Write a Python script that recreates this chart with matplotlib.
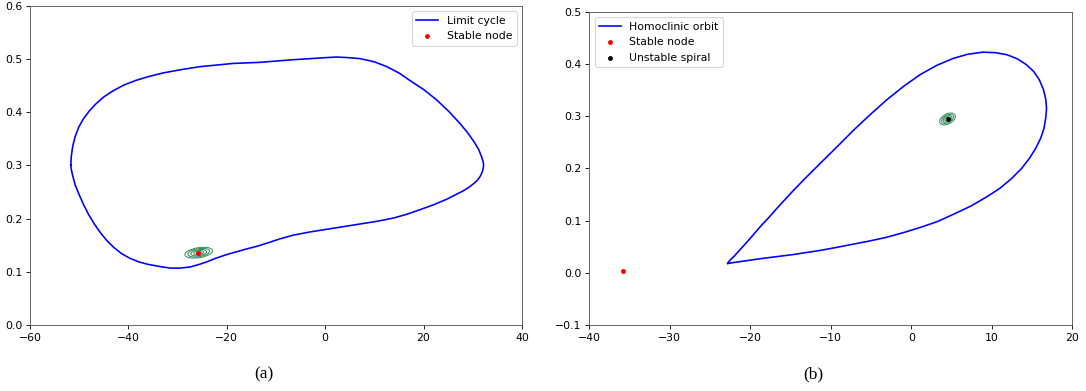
import matplotlib
matplotlib.use("Agg")
import matplotlib.pyplot as plt
from matplotlib.patches import Ellipse
from matplotlib.transforms import ScaledTranslation

# (a) limit cycle, going round the loop
cycle_x = [-51.7, -51.6, -51.3, -50.8, -50.1, -49.2, -48.0, -46.6, -45.0, -43.2,
           -41.0, -38.5, -36.0, -33.0, -29.5, -25.4, -22.0, -18.7, -13.3, -9.2,
           -6.5, -3.0, 0.3, 2.3, 4.5, 7.1, 10.0, 12.5, 15.0, 17.2,
           20.0, 22.7, 25.2, 27.4, 29.0, 30.3, 31.2, 31.8, 32.1, 32.2,
           32.0, 31.6, 31.0, 30.2, 29.2, 28.0, 26.5, 24.8, 22.0, 19.3,
           16.5, 13.8, 10.5, 7.1, 3.7, 0.3, -3.1, -6.5, -9.2, -11.5,
           -13.5, -16.0, -18.7, -20.5, -22.1, -24.0, -25.6, -27.5, -29.5, -31.5,
           -33.6, -36.0, -38.0, -39.8, -41.5, -43.1, -44.5, -45.8, -47.0, -48.1,
           -49.1, -50.0, -50.8, -51.3, -51.6, -51.7]
cycle_y = [0.301, 0.318, 0.337, 0.355, 0.372, 0.387, 0.402, 0.416, 0.429, 0.440,
           0.451, 0.460, 0.467, 0.474, 0.480, 0.486, 0.489, 0.492, 0.494, 0.497,
           0.499, 0.501, 0.503, 0.504, 0.503, 0.501, 0.495, 0.486, 0.474, 0.460,
           0.443, 0.423, 0.401, 0.379, 0.361, 0.344, 0.330, 0.316, 0.307, 0.300,
           0.290, 0.281, 0.273, 0.266, 0.259, 0.252, 0.245, 0.237, 0.226, 0.217,
           0.208, 0.201, 0.195, 0.190, 0.185, 0.180, 0.175, 0.169, 0.162, 0.155,
           0.149, 0.143, 0.136, 0.131, 0.126, 0.119, 0.114, 0.109, 0.107, 0.107,
           0.110, 0.114, 0.119, 0.126, 0.135, 0.147, 0.160, 0.175, 0.191, 0.208,
           0.226, 0.245, 0.263, 0.280, 0.292, 0.301]
node_a = (-25.8, 0.135)

# (b) homoclinic orbit
orbit_x = [-22.8, -22.7, -22.4, -22.0, -21.0, -19.9, -18.8, -17.7, -16.5, -14.7,
           -13.0, -11.3, -9.2, -7.2, -5.2, -3.1, -1.0, 1.1, 3.2, 5.2,
           7.0, 8.9, 10.5, 11.9, 13.2, 14.3, 15.2, 15.9, 16.4, 16.7,
           16.8, 16.7, 16.5, 16.1, 15.5, 14.7, 13.7, 12.4, 11.0, 9.4,
           7.4, 5.2, 3.2, 1.1, -1.0, -3.1, -5.2, -7.2, -9.2, -11.3,
           -14.7, -18.8, -21.5, -22.4, -22.8]
orbit_y = [0.018, 0.021, 0.026, 0.032, 0.049, 0.068, 0.088, 0.106, 0.127, 0.157,
           0.184, 0.210, 0.242, 0.273, 0.302, 0.331, 0.357, 0.380, 0.398, 0.411,
           0.419, 0.423, 0.422, 0.418, 0.410, 0.399, 0.386, 0.370, 0.352, 0.333,
           0.315, 0.297, 0.278, 0.259, 0.240, 0.220, 0.200, 0.180, 0.162, 0.146,
           0.128, 0.112, 0.098, 0.087, 0.077, 0.068, 0.061, 0.055, 0.049, 0.043,
           0.035, 0.027, 0.021, 0.019, 0.018]
node_b = (-35.8, 0.003)
spiral_b = (4.5, 0.295)

DPI = 78
fig = plt.figure(figsize=(1086 / DPI, 391 / DPI), dpi=DPI)
ax1 = fig.add_axes([30 / 1086, 66 / 391, 492 / 1086, 319 / 391])
ax2 = fig.add_axes([589.3 / 1086, 66 / 391, 483 / 1086, 313 / 391])


def draw_rings(ax, center, sizes, angle):
    # small spiral drawn as concentric rings, sizes in pixels
    for w, h in sizes:
        tr = fig.dpi_scale_trans + ScaledTranslation(center[0], center[1], ax.transData)
        e = Ellipse((0, 0), w / DPI, h / DPI, angle=angle, transform=tr,
                    fill=False, edgecolor="seagreen", lw=0.9, zorder=2)
        ax.add_patch(e)


ax1.plot(cycle_x, cycle_y, color="blue", label="Limit cycle", zorder=3)
draw_rings(ax1, (-25.7, 0.136), [(28, 10), (22, 8), (16, 6), (10, 4), (5, 2.2)], 9)
ax1.scatter([node_a[0]], [node_a[1]], s=12, color="red", label="Stable node", zorder=4)
ax1.set_xlim(-60, 40)
ax1.set_ylim(0, 0.6)
ax1.legend(loc="upper right")

ax2.plot(orbit_x, orbit_y, color="blue", label="Homoclinic orbit", zorder=3)
draw_rings(ax2, spiral_b, [(17, 10), (13, 7.5), (9.5, 5.5), (6, 3.5)], 28)
ax2.scatter([node_b[0]], [node_b[1]], s=12, color="red", label="Stable node", zorder=4)
ax2.scatter([spiral_b[0]], [spiral_b[1]], s=12, color="black", label="Unstable spiral", zorder=4)
ax2.set_xlim(-40, 20)
ax2.set_ylim(-0.1, 0.5)
ax2.set_yticks([-0.1, 0.0, 0.1, 0.2, 0.3, 0.4, 0.5])
ax2.legend(loc="upper left")

for ax in (ax1, ax2):
    for sp in ax.spines.values():
        sp.set_color("#555555")

fig.text(263.7 / 1086, 1 - 374.7 / 391, "(a)", ha="center", va="center",
         family="Liberation Serif", fontsize=16)
fig.text(813 / 1086, 1 - 374.7 / 391, "(b)", ha="center", va="center",
         family="Liberation Serif", fontsize=16)

fig.savefig("out.png", dpi=DPI)
